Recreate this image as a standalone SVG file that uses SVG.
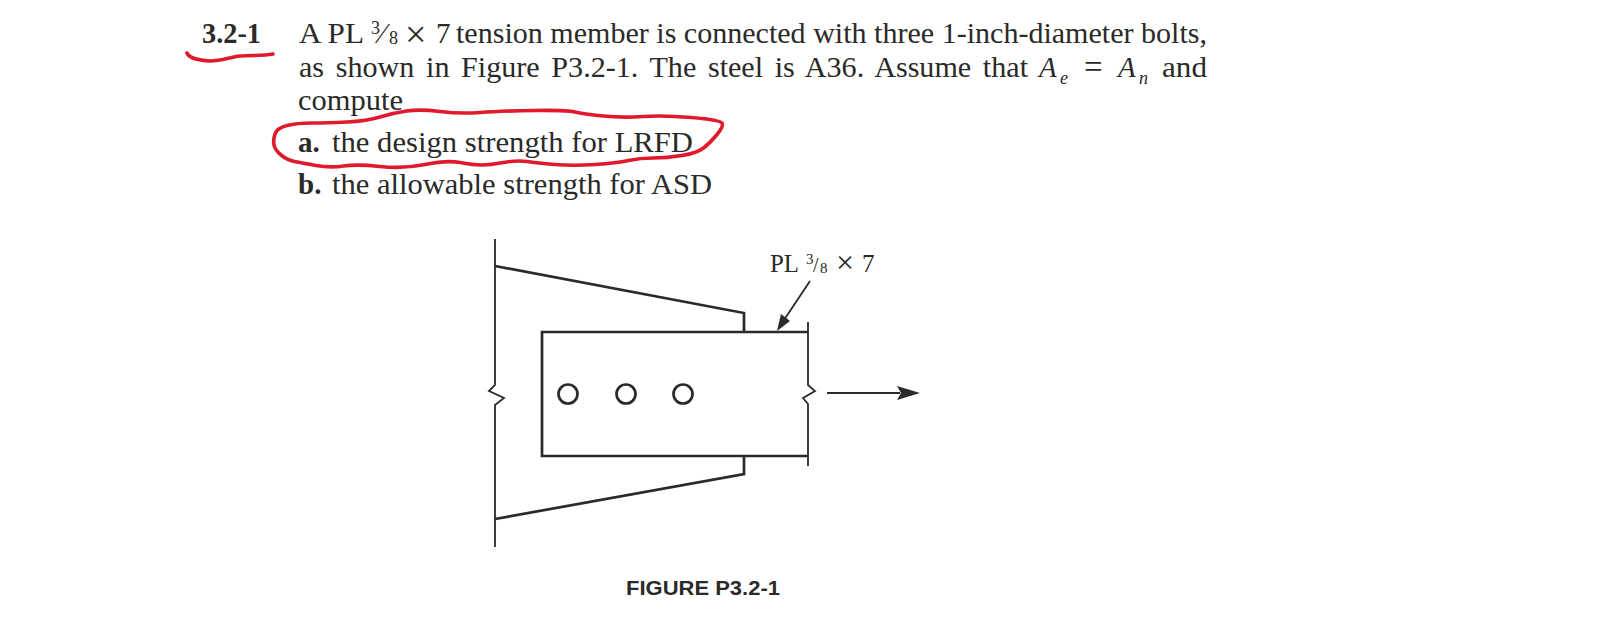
<svg xmlns="http://www.w3.org/2000/svg" width="1620" height="634" viewBox="0 0 1620 634">
<style>
.t{font-family:"Liberation Serif","Times New Roman",serif;font-size:29px;fill:#2a2a28}
.b{font-weight:bold}
.i{font-style:italic}
.s{font-size:18px}
.l{font-size:25px}
.m{font-size:15px}
.f{font-family:"Liberation Sans",Arial,sans-serif;font-size:21px;font-weight:bold;fill:#2a2a28}
.d{fill:none;stroke:#2a2a28;stroke-width:2.7}
.h{fill:none;stroke:#2a2a28;stroke-width:1.8}
.r{fill:none;stroke:#e0192d;stroke-width:3.6;stroke-linecap:round;stroke-linejoin:round}
</style>
<rect width="1620" height="634" fill="#fff"/>
<g id="problem-text">
<text class="t b" x="202" y="43" textLength="59" lengthAdjust="spacingAndGlyphs">3.2-1</text>
<text class="t" x="299" y="43" textLength="65" lengthAdjust="spacingAndGlyphs">A PL</text>
<text class="t s" x="371" y="34">3</text>
<text class="t" x="380" y="43">⁄</text>
<text class="t s" x="389" y="44">8</text>
<text class="t" style="font-size:38px" x="405" y="47">×</text>
<text class="t" x="436" y="43">7</text>
<text class="t" x="456" y="43" textLength="751" lengthAdjust="spacingAndGlyphs">tension member is connected with three 1-inch-diameter bolts,</text>
<text class="t" style="word-spacing:4px" x="299" y="77" textLength="729" lengthAdjust="spacingAndGlyphs">as shown in Figure P3.2-1. The steel is A36. Assume that</text>
<text class="t i" x="1039" y="77">A</text>
<text class="t i s" x="1060" y="84">e</text>
<text class="t" style="font-size:33px" x="1084" y="78">=</text>
<text class="t i" x="1118" y="77">A</text>
<text class="t i s" x="1139" y="84">n</text>
<text class="t" x="1162" y="77" textLength="45" lengthAdjust="spacingAndGlyphs">and</text>
<text class="t" x="298" y="110" textLength="105" lengthAdjust="spacingAndGlyphs">compute</text>
<text class="t b" x="298" y="152">a.</text>
<text class="t" x="332" y="152" textLength="361" lengthAdjust="spacingAndGlyphs">the design strength for LRFD</text>
<text class="t b" x="298" y="194">b.</text>
<text class="t" x="332" y="194" textLength="380" lengthAdjust="spacingAndGlyphs">the allowable strength for ASD</text>
</g>
<g id="annotations">
<path class="r" d="M187 53C189 58 196 60 210 61C222 61 230 57 240 56C252 55 263 56 273 54"/>
<path class="r" d="M275,134 Q277,128 287,125.5 Q297,123 312,123 Q327,123 347,122 Q367,121 380,117 Q393,113 406.5,111 Q420,109 440,111.5 Q460,114 480,112.5 Q500,111 533.5,110.5 Q567,110 575,112 Q583,114 603,116 Q623,118 643,116.5 Q663,115 691.5,117.5 Q720,120 722,123 Q724,126 717,134.5 Q710,143 703.5,148 Q697,153 682,155.5 Q667,158 653.5,158 Q640,158 628.5,160.5 Q617,163 595,164.5 Q573,166 555,164.5 Q537,163 527,161.5 Q517,160 503.5,162.5 Q490,165 481.5,165 Q473,165 460,162.5 Q447,160 425,164.5 Q403,169 380,166.5 Q357,164 343.5,166 Q330,168 316,165.5 Q302,163 294.5,161.5 Q287,160 281,155 Q275,150 274,145 Q273,140 275,134Z"/>
</g>
<g id="figure">
<path class="h" d="M495 239V385L489 391L504 398L495 405V547"/>
<path class="d" d="M495 266L744 313V331M495 519L744 474V456"/>
<path class="d" d="M808 332H542V456H808"/>
<path class="h" d="M808 322V385L815 391L803 398L808 404V466"/>
<circle class="d" cx="568" cy="394" r="9.5"/>
<circle class="d" cx="626" cy="394" r="9.5"/>
<circle class="d" cx="683" cy="394" r="9.5"/>
<path class="h" d="M810 281L780 326"/>
<path d="M777 331L781 314L790 321Z" fill="#2a2a28"/>
<path class="h" d="M827 393H900"/>
<path d="M920 393L897 386L901 393L897 400Z" fill="#2a2a28"/>
<text class="t l" x="770" y="272" textLength="29" lengthAdjust="spacingAndGlyphs">PL</text>
<text class="t m" x="806" y="264">3</text>
<text class="t" style="font-size:20px" x="813" y="272">/</text>
<text class="t m" x="820" y="273">8</text>
<text class="t" style="font-size:32px" x="836" y="273">×</text>
<text class="t l" x="862" y="272">7</text>
<text class="f" x="626" y="595" textLength="154" lengthAdjust="spacingAndGlyphs">FIGURE P3.2-1</text>
</g>
</svg>
